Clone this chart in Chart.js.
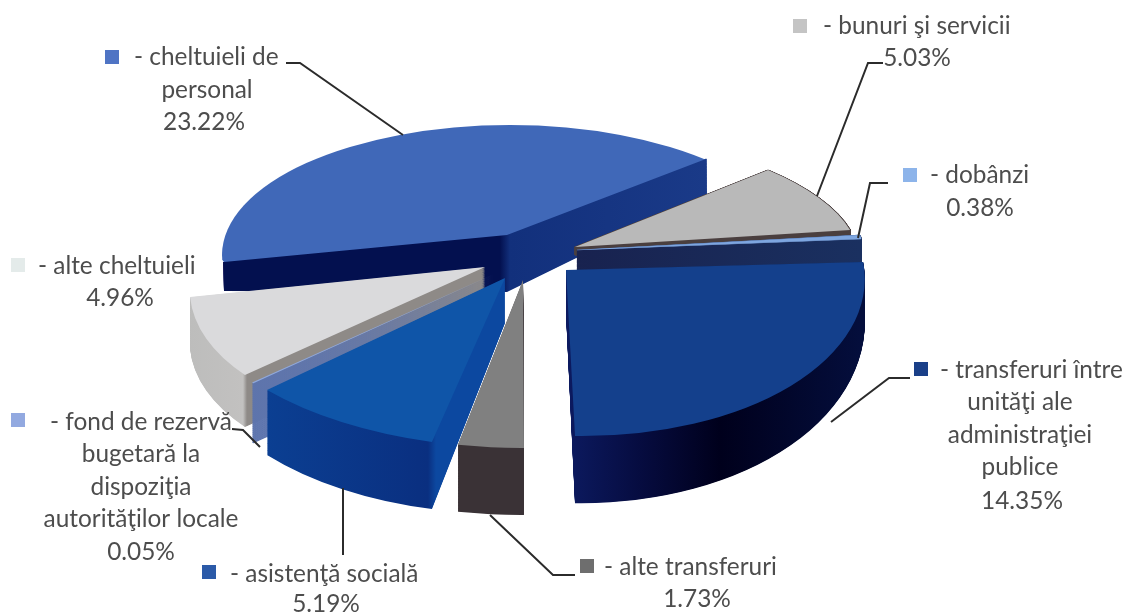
<!DOCTYPE html>
<html>
<head>
<meta charset="utf-8">
<script src="https://cdn.jsdelivr.net/npm/chart.js@4"></script>
<style>
html, body { margin: 0; padding: 0; background: #fff; }
canvas { display: block; }
</style>
</head>
<body>
<canvas id="pie" width="1135" height="616"></canvas>
<script>
const categories = ["cheltuieli de personal", "bunuri şi servicii", "dobânzi", "transferuri între unităţi ale administraţiei publice",
    "alte transferuri", "asistenţă socială", "fond de rezervă bugetară la dispoziţia autorităţilor locale", "alte cheltuieli"];
const shares = [23.22, 5.03, 0.38, 14.35, 1.73, 5.19, 0.05, 4.96];
const topColors = ["#4068b8", "#b9b9b9", "#7ea6e0", "#14408c", "#808080", "#0f55a8", "#8fa8dc", "#dadadc"];

// the original is a tilted, exploded 3D pie: each slice has its own view of the flat arc
// m = canvas matrix of the top face, wall = [depth at apex, tilt x, tilt y], stops = wall colours by canvas x
const views = [
    { m: [1.032, -0.0099, 0.161, 0.401, 507, 235], wall: [57, 0.166, 0.316], rimClip: [510, 255, 288, 130],
      stops: [[224, "#03104f"], [500, "#03104f"], [510, "#12307c"], [706, "#1a3a88"]] },
    { m: [0.970, -0.0112, 0.1248, 0.4016, 575, 247], wall: [8, 0, 0], edge: 2, stops: [[575, "#4a3f3f"], [850, "#4a3f3f"]] },
    { m: [0.98, -0.0142, 0, 0.318, 577, 250], wall: [24, 0, 0], edge: 3, stops: [[575, "#18224f"], [860, "#1a3060"]] },
    { m: [1.03, 0.0153, 0.0272, 0.5724, 566, 270], wall: [43, 0, 0.0833],
      stops: [[566, "#0c1a60"], [640, "#060c40"], [720, "#00001c"], [860, "#040e3c"]] },
    { m: [1.158, -0.002, -0.001, 0.579, 523, 280], wall: [67, 0, 0], stops: [[458, "#3a3236"], [525, "#3a3236"]] },
    { m: [1.1215, 0.0357, -0.0362, 0.5832, 505, 278], wall: [45, -0.025, 0.0727],
      stops: [[267, "#0b3f92"], [428, "#0a2f80"], [436, "#0c48a0"], [505, "#0c48a0"]] },
    { m: [1.17, 0, 0, 0.534, 494, 274], wall: [60, 0, 0], stops: [[250, "#5d74ad"], [494, "#5d74ad"]] },
    { m: [1.0064, 0.0091, -0.1572, 0.5402, 485, 267], wall: [52, 0, 0],
      stops: [[190, "#bdbdbc"], [243, "#c2c1c0"], [247, "#8e8a87"], [485, "#8e8a87"]] }
];
const drawOrder = [0, 1, 2, 3, 4, 7, 6, 5];

const labelFont = "24.4px Lato";
const labelColor = "#4d4d4d";
const legendColors = ["#4f74c4", "#c4c4c4", "#8db4ea", "#1a3f88", "#6e6e6e", "#2b5aa8", "#92a9e0", "#e4ebea"];
// swatch x,y then text lines as [text, x, y, align]
const labelBlocks = [
    { swatch: [112, 57], lines: [["- cheltuieli de", 134, 57, "left"], ["personal", 207, 90], [shares[0] + "%", 204, 122]] },
    { swatch: [800, 26], lines: [["- bunuri şi servicii", 823, 26, "left"], [shares[1].toFixed(2) + "%", 917, 58]] },
    { swatch: [910, 175], lines: [["- dobânzi", 930, 175, "left"], [shares[2] + "%", 980, 208]] },
    { swatch: [921, 369], lines: [["- transferuri între", 940, 370, "left"], ["unităţi ale", 1020, 402], ["administraţiei", 1020, 435],
        ["publice", 1020, 467], [shares[3] + "%", 1022, 501]] },
    { swatch: [587, 566], lines: [["- alte transferuri", 604, 567, "left"], [shares[4] + "%", 697, 599]] },
    { swatch: [209, 572], lines: [["- asistenţă socială", 230, 574, "left"], [shares[5] + "%", 326, 604]] },
    { swatch: [18, 420], lines: [["- fond de rezervă", 50, 422, "left"], ["bugetară la", 141, 454], ["dispoziţia", 141, 487],
        ["autorităţilor locale", 141, 519], [shares[6] + "%", 141, 552]] },
    { swatch: [18, 265], lines: [["- alte cheltuieli", 38, 266, "left"], [shares[7] + "%", 120, 298]] }
];
const leaders = [
    [[286, 63], [300, 63], [403, 135]],
    [[883, 63], [868, 63], [817, 196]],
    [[888, 183], [870, 183], [858, 238]],
    [[910, 378], [889, 378], [831, 422]],
    [[575, 575], [553, 575], [490, 515]],
    [[343, 555], [343, 488]],
    [[232, 429], [243, 430], [260, 447]]
];

function drawArcWith(ctx, arc, m, fill, edge) {
    const keep = arc.options;
    arc.options = { ...keep, backgroundColor: fill, borderColor: fill, borderWidth: edge || 0 };
    ctx.save();
    ctx.transform(m[0], m[1], m[2], m[3], m[4], m[5]);
    ctx.translate(-arc.x, -arc.y);
    arc.draw(ctx);
    ctx.restore();
    arc.options = keep;
}

// gradient in the arc's own space whose bands land on canvas x positions under matrix m
function wallFill(ctx, arc, m, stops) {
    const n = m[0] * m[0] + m[2] * m[2];
    const at = x => [arc.x + (x - m[4]) * m[0] / n, arc.y + (x - m[4]) * m[2] / n];
    const x0 = stops[0][0], x1 = stops[stops.length - 1][0];
    const p0 = at(x0), p1 = at(x1);
    const g = ctx.createLinearGradient(p0[0], p0[1], p1[0], p1[1]);
    stops.forEach(s => g.addColorStop((s[0] - x0) / (x1 - x0), s[1]));
    return g;
}

function rimPoint(m, radius, angle) {
    const ux = Math.cos(angle) * radius, uy = Math.sin(angle) * radius;
    return [m[0] * ux + m[2] * uy + m[4], m[1] * ux + m[3] * uy + m[5]];
}

const pie3d = {
    id: "pie3d",
    beforeDatasetsDraw(chart) {
        const ctx = chart.ctx;
        const arcs = chart.getDatasetMeta(0).data;
        drawOrder.forEach(i => {
            const arc = arcs[i], v = views[i], m = v.m;
            const fill = wallFill(ctx, arc, m, v.stops);
            ctx.save();
            if (v.rimClip) {
                // the wall of the far slice must not stick out above its top face
                const a = rimPoint(m, arc.outerRadius, arc.startAngle), b = rimPoint(m, arc.outerRadius, arc.endAngle);
                ctx.beginPath();
                ctx.moveTo(a[0], a[1]);
                ctx.lineTo(b[0], b[1]);
                ctx.lineTo(b[0], 616);
                ctx.lineTo(a[0], 616);
                ctx.closePath();
                ctx.clip();
            }
            const steps = 90;
            for (let s = steps; s > 0; s--) {
                const t = s / steps;
                drawArcWith(ctx, arc, [m[0], m[1] + v.wall[1] * t, m[2], m[3] + v.wall[2] * t, m[4], m[5] + v.wall[0] * t], fill, v.edge);
            }
            ctx.restore();
            ctx.save();
            if (v.rimClip) {
                ctx.beginPath();
                ctx.ellipse(v.rimClip[0], v.rimClip[1], v.rimClip[2], v.rimClip[3], 0, 0, Math.PI * 2);
                ctx.clip();
            }
            drawArcWith(ctx, arc, m, topColors[i], i === 2 ? 2 : 0);
            ctx.restore();
        });
        return false;
    },
    afterDraw(chart) {
        const ctx = chart.ctx;
        ctx.save();
        ctx.strokeStyle = "#2b2b2b";
        ctx.lineWidth = 2;
        leaders.forEach(pts => {
            ctx.beginPath();
            pts.forEach((p, k) => k ? ctx.lineTo(p[0], p[1]) : ctx.moveTo(p[0], p[1]));
            ctx.stroke();
        });
        ctx.font = labelFont;
        ctx.textBaseline = "middle";
        labelBlocks.forEach((b, i) => {
            ctx.fillStyle = legendColors[i];
            ctx.fillRect(b.swatch[0] - 7, b.swatch[1] - 7, 14, 14);
            ctx.fillStyle = labelColor;
            b.lines.forEach(l => {
                ctx.textAlign = l[3] || "center";
                ctx.fillText(l[0], l[1], l[2]);
            });
        });
        ctx.restore();
    }
};

new Chart(document.getElementById("pie"), {
    type: "pie",
    data: {
        labels: categories,
        datasets: [{ data: shares, backgroundColor: topColors, borderWidth: 0 }]
    },
    options: {
        responsive: false,
        animation: false,
        rotation: 258,
        radius: 290,
        plugins: { legend: { display: false }, tooltip: { enabled: false } }
    },
    plugins: [pie3d]
});
</script>
</body>
</html>
